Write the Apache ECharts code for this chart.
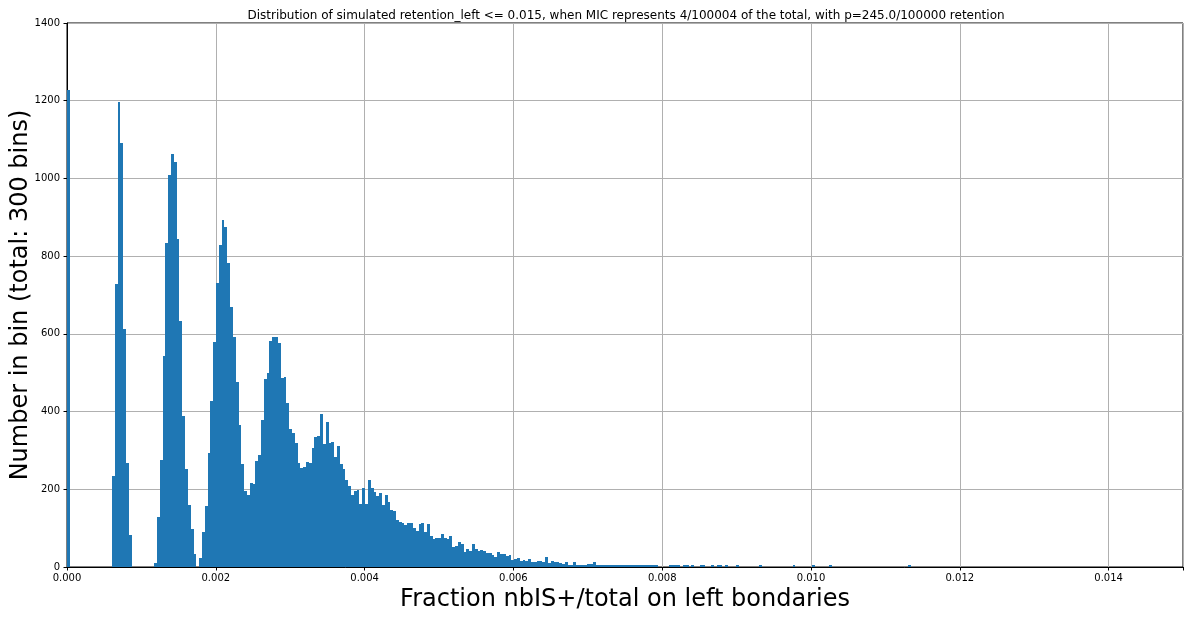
<!DOCTYPE html>
<html>
<head>
<meta charset="utf-8">
<script src="https://cdn.jsdelivr.net/npm/echarts@6/dist/echarts.min.js"></script>
<style>
html,body{margin:0;padding:0;background:#fff;}
#chart{width:1190px;height:619px;}
</style>
</head>
<body>
<div id="chart"></div>
<script>
// ---- data ----
const titleText = 'Distribution of simulated retention_left <= 0.015, when MIC represents 4/100004 of the total, with p=245.0/100000 retention';
const xLabel = 'Fraction nbIS+/total on left bondaries';
const yLabel = 'Number in bin (total: 300 bins)';
const numBins = 300;
const binMin = 0;
const binMax = 0.01134;
const xTicks = [0, 0.002, 0.004, 0.006, 0.008, 0.010, 0.012, 0.014];
const yTicks = [0, 200, 400, 600, 800, 1000, 1200, 1400];

// counts for bins 0..299
const counts = [
  1228, 0, 0, 0, 0, 0, 0, 0, 0, 0, 0, 0, 0, 0, 0, 0,           // 0-15
  234, 728, 1197, 1091, 612, 268, 83,                          // 16-22
  0, 0, 0, 0, 0, 0, 0, 0,                                      // 23-30
  10, 129, 275, 543, 834, 1009, 1063, 1042, 844, 633, 389, 252, 160, 98, 33, // 31-45
  0, 23, 90, 157, 293, 427, 579, 731, 829, 893, 875, 782, 669, 592, 476, 365, 265, 196, 185, // 46-64
  215, 214, 273, 288, 379, 484, 499, 582, 592, 592, 576, 486, 489, 422, 355, 345, 319, 268, 255, 257, // 65-84
  270, 268, 306, 335, 337, 394, 317, 373, 319, 322, 283, 311, 265, 252, 224, 208, 185, 196, 198, 162, // 85-104
  203, 162, 224, 203, 193, 183, 190, 160, 185, 167, 147, 144, 121, 116, 113, 108, 113, 113, 100, 93,  // 105-124
  111, 113, 90, 111, 80, 72, 75, 75, 85, 75, 72, 80, 51, 54, 64, 59, 39, 46, 41, 59, // 125-144
  46, 41, 44, 41, 36, 36, 31, 26, 39, 33, 33, 28, 31, 18, 20, 23, 15, 18, 15, 21,   // 145-164
  13, 13, 15, 15, 13, 26, 10, 15, 13, 13, 10, 8, 13, 5, 5, 13, 5, 4, 5, 4,          // 165-184
  8, 8, 13, 5, 5, 4, 4, 4, 5, 5, 4, 4, 5, 4, 4, 4, 4, 4, 4, 4,                       // 185-204
  4, 4, 4, 4, 4, 0, 0, 0, 0, 4, 4, 4, 4, 0, 4, 4, 0, 4, 0, 0,                        // 205-224
  4, 4, 0, 0, 4, 0, 4, 4, 0, 4, 0, 0, 0, 4, 0, 0, 0, 0, 0, 0,                        // 225-244
  0, 4, 0, 0, 0, 0, 0, 0, 0, 0, 0, 0, 0, 4, 0, 0, 0, 0, 0, 0,                        // 245-264
  4, 0, 0, 0, 0, 0, 4, 0, 0, 0, 0, 0, 0, 0, 0, 0, 0, 0, 0, 0,                        // 265-284
  0, 0, 0, 0, 0, 0, 0, 0, 0, 0, 0, 0, 0, 0, 4                                        // 285-299
];

// ---- chart ----
const binWidth = (binMax - binMin) / numBins;
const histData = counts.map((c, i) => [binMin + i * binWidth, binMin + (i + 1) * binWidth, c]);

const chart = echarts.init(document.getElementById('chart'), null, {renderer: 'canvas'});
const font = 'DejaVu Sans';
chart.setOption({
  animation: false,
  backgroundColor: '#ffffff',
  title: {
    text: titleText,
    left: 621, top: 5, textAlign: 'center',
    textStyle: {fontFamily: font, fontSize: 12, fontWeight: 'normal', color: '#000'}
  },
  grid: {left: 67, top: 23, width: 1116, height: 544, containLabel: false, outerBoundsMode: 'none',
    show: true, borderColor: '#000', borderWidth: 1, backgroundColor: 'transparent'},
  xAxis: {
    type: 'value', min: 0, max: 0.015, interval: 0.002,
    name: xLabel, nameLocation: 'middle', nameGap: 16,
    nameTextStyle: {fontFamily: font, fontSize: 24, color: '#000'},
    axisLine: {show: true, lineStyle: {color: '#000', width: 1}},
    axisTick: {show: true, length: 3.5, lineStyle: {color: '#000'}},
    axisLabel: {
      margin: 6, fontFamily: font, fontSize: 10, color: '#000',
      formatter: v => xTicks.some(t => Math.abs(t - v) < 1e-9) ? v.toFixed(3) : ''
    },
    splitLine: {show: true, lineStyle: {color: '#b0b0b0', width: 1}}
  },
  yAxis: {
    type: 'value', min: 0, max: 1400, interval: 200,
    name: yLabel, nameLocation: 'middle', nameGap: 34, nameRotate: 90, nameMoveOverlap: false,
    nameTextStyle: {fontFamily: font, fontSize: 24, color: '#000'},
    axisLine: {show: true, lineStyle: {color: '#000', width: 1}},
    axisTick: {show: true, length: 3.5, lineStyle: {color: '#000'}},
    axisLabel: {margin: 7, fontFamily: font, fontSize: 10, color: '#000',
      formatter: v => yTicks.includes(v) ? String(v) : ''},
    splitLine: {show: true, lineStyle: {color: '#b0b0b0', width: 1}}
  },
  series: [{
    type: 'custom',
    data: histData,
    encode: {x: [0, 1], y: 2},
    clip: true,
    renderItem: function (params, api) {
      const v = api.value(2);
      if (!v) return null;
      const p0 = api.coord([api.value(0), v]);
      const p1 = api.coord([api.value(1), 0]);
      const x0 = Math.round(p0[0]), x1 = Math.round(p1[0]);
      const yb = Math.round(p1[1]);
      const yt = Math.min(yb - 1, Math.round(p0[1]));
      return {
        type: 'rect',
        shape: {x: x0, y: yt, width: Math.max(1, x1 - x0), height: yb - yt},
        style: {fill: '#1f77b4', stroke: null}
      };
    }
  }]
});
</script>
</body>
</html>
